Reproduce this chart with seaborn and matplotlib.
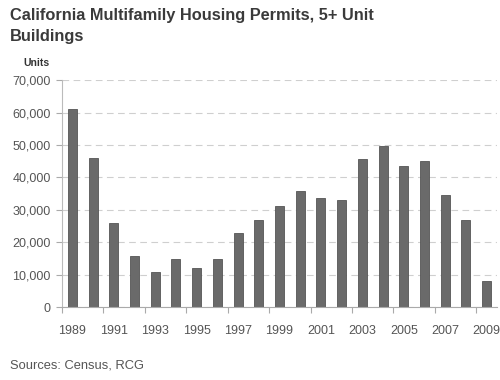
import matplotlib
matplotlib.use("Agg")
import matplotlib.pyplot as plt
from matplotlib.ticker import FuncFormatter, FixedLocator
import pandas as pd
import seaborn as sns

years = list(range(1989, 2010))
permits = [61000, 46000, 25800, 15600, 10800, 14700, 12200, 14700, 22800,
           26900, 31100, 35900, 33500, 33000, 45800, 49700, 43600, 45200,
           34600, 26800, 8000]
y_ticks = [0, 10000, 20000, 30000, 40000, 50000, 60000, 70000]

title = "California Multifamily Housing Permits, 5+ Unit\nBuildings"
unit_label = "Units"
source_note = "Sources: Census, RCG"

df = pd.DataFrame({"year": [str(y) for y in years], "permits": permits})

sns.set_theme(style="white")
plt.rcParams["font.family"] = ["Liberation Sans", "DejaVu Sans"]

fig = plt.figure(figsize=(5.0, 3.8), dpi=100)
ax = fig.add_axes([0.124, 0.192, 0.870, 0.597])

sns.barplot(data=df, x="year", y="permits", color="#6a6a6a", width=0.44,
            edgecolor="#555555", linewidth=0.6, saturation=1, ax=ax)

ax.set_xlim(-0.5, len(years) - 0.5)
ax.set_ylim(0, 70000)
ax.set_yticks(y_ticks)
ax.yaxis.set_major_formatter(FuncFormatter(lambda v, p: f"{int(v):,}"))
ax.yaxis.grid(True, color="#cfcfcf", linestyle=(0, (6, 4)), linewidth=0.8)
ax.set_axisbelow(True)

# labels on every other year, tick marks on category boundaries
label_pos = list(range(0, len(years), 2))
ax.set_xticks(label_pos)
ax.set_xticklabels([str(years[i]) for i in label_pos])
ax.xaxis.set_minor_locator(FixedLocator([i - 0.5 for i in range(0, len(years) + 1, 2)]))
ax.tick_params(axis="x", which="major", length=0, pad=13, labelsize=9,
               labelcolor="#555555")
ax.tick_params(axis="x", which="minor", length=4, width=0.8, color="#aaaaaa",
               direction="out", bottom=True)
ax.tick_params(axis="y", which="major", length=4, width=0.8, color="#aaaaaa",
               left=True, labelsize=9, labelcolor="#555555", pad=4)

ax.set_xlabel("")
ax.set_ylabel("")
for side in ["top", "right"]:
    ax.spines[side].set_visible(False)
ax.spines["left"].set_color("#bbbbbb")
ax.spines["bottom"].set_color("#aaaaaa")
ax.spines["left"].set_linewidth(0.8)
ax.spines["bottom"].set_linewidth(0.8)

fig.text(0.02, 0.98, title, ha="left", va="top", fontsize=11.8,
         fontweight="bold", color="#3a3a3a", linespacing=1.5)
fig.text(0.046, 0.822, unit_label, ha="left", va="bottom", fontsize=7.5,
         fontweight="bold", color="#333333")
fig.text(0.02, 0.022, source_note, ha="left", va="bottom", fontsize=9.3,
         color="#555555")

fig.savefig("out.png", dpi=100)
